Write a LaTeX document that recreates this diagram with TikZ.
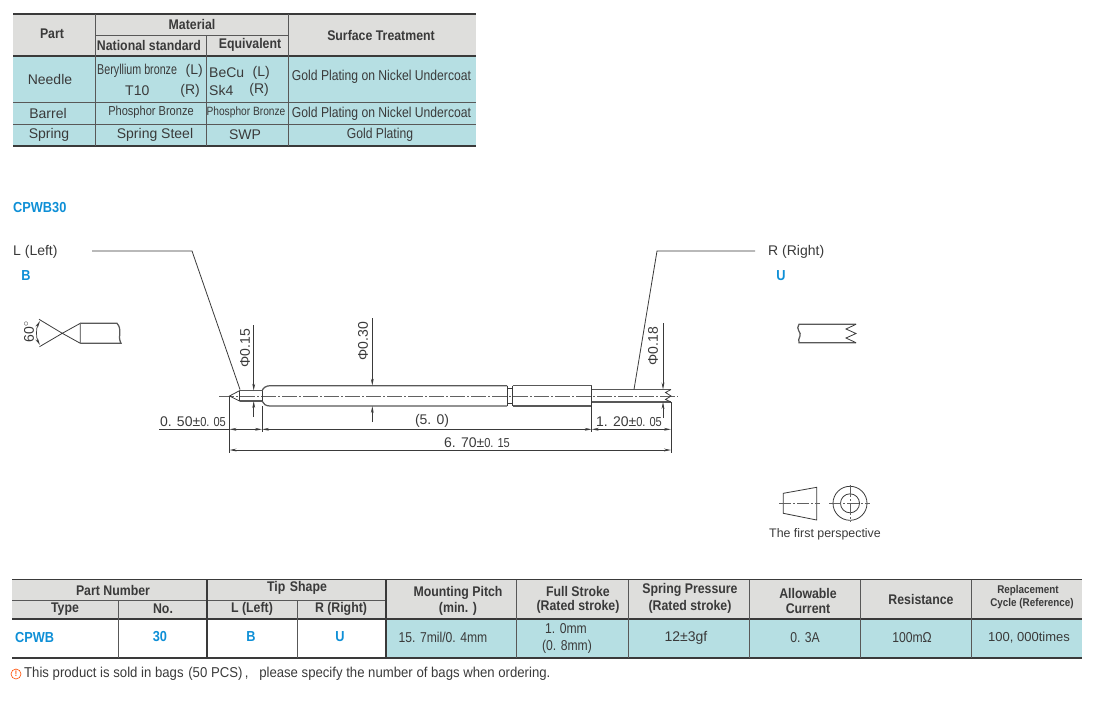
\documentclass[tikz,border=0pt]{standalone}
\usepackage{fontspec}
\usetikzlibrary{arrows.meta}
\setmainfont{Liberation Sans}
\newfontfamily\nf[FakeStretch=0.85]{Liberation Sans}
\newfontfamily\nn[FakeStretch=0.92]{Liberation Sans}
\newfontfamily\nc[FakeStretch=0.75]{Liberation Sans}
\newfontfamily\nx{Liberation Sans}
\newfontfamily\nb[FakeStretch=0.88]{Liberation Sans Bold}
\definecolor{hdr}{HTML}{DEDEDC}
\definecolor{teal}{HTML}{B6DFE3}
\definecolor{blu}{HTML}{0E8FD6}
\definecolor{ink}{HTML}{3A3A3A}
\newcommand{\sz}[1]{\fontsize{#1}{#1}\selectfont}
\tikzset{
  x=1pt,y=-1pt,
  lab/.style={inner sep=0pt,text=ink,font=\nf\sz{14.3}},
  labw/.style={inner sep=0pt,text=ink,font=\nx\sz{14}},
  labn/.style={inner sep=0pt,text=ink,font=\nn\sz{14.3}},
  labs/.style={inner sep=0pt,text=ink,font=\nf\sz{13}},
  labt/.style={inner sep=0pt,text=ink,font=\nf\sz{12}},
  hd/.style={inner sep=0pt,text=ink,font=\nb\sz{14}},
  hds/.style={inner sep=0pt,text=ink,font=\nb\sz{11.2}},
  bluet/.style={inner sep=0pt,text=blu,font=\nb\sz{14.5}},
  heavy/.style={draw=ink,line width=1.6pt},
  thin/.style={draw=ink!85,line width=0.9pt},
  part/.style={draw=ink,line width=0.8pt},
  partb/.style={draw=ink!85,line width=1.25pt},
  dim/.style={draw=ink,line width=0.7pt},
  dimarr/.style={dim,{Stealth[length=7pt,width=2.8pt]}-{Stealth[length=7pt,width=2.8pt]}},
  endarr/.style={dim,-{Stealth[length=7pt,width=2.8pt]}},
  centre/.style={draw=ink!80,line width=0.9pt,dash pattern=on 15pt off 2pt on 2pt off 2pt},
}
\begin{document}
\begin{tikzpicture}
\useasboundingbox (0,0) rectangle (1100,702);
% ---------- material table
\fill[hdr] (13,14) rectangle (476,56);
\fill[teal] (13,56) rectangle (476,146);
\draw[heavy] (13,14) -- (476,14);
\draw[heavy] (13,56) -- (476,56);
\draw[heavy] (13,146) -- (476,146);
\draw[thin] (95,35) -- (288,35);
\draw[thin] (13,102) -- (476,102);
\draw[thin] (13,124) -- (476,124);
\draw[thin] (95,14) -- (95,146);
\draw[thin] (288,14) -- (288,146);
\draw[thin] (206,35) -- (206,146);
\node[hd] (m1) at (52,33.5) {Part};
\node[hd] (m2) at (192,24) {Material};
\node[hd] (m3) at (149,45.5) {National standard};
\node[hd] (m4) at (250,45) {Equivalent};
\node[hd] (m5) at (381,35) {Surface Treatment};
\node[labw] (m6) at (50,79.5) {Needle};
\node[labw] (m7) at (48,113) {Barrel};
\node[labw] (m8) at (49,135) {Spring};
\node[inner sep=0pt,text=ink,font=\nc\sz{14.3},anchor=west] (m9) at (97,71) {Beryllium bronze};
\node[labw,anchor=east] (m9b) at (203,71) {(L)};
\node[labw,anchor=west] (m10) at (125,91) {T10};
\node[labw,anchor=east] (m11) at (200,91) {(R)};
\node[labw,anchor=west] (m12) at (209,73) {BeCu};
\node[labw,anchor=east] (m12b) at (270,73) {(L)};
\node[labw,anchor=west] (m13) at (209,90) {Sk4};
\node[labw,anchor=east] (m13b) at (269,90) {(R)};
\node[labs] (m14) at (151,112.5) {Phosphor Bronze};
\node[labt] (m15) at (246,112.5) {Phosphor Bronze};
\node[labw] (m16) at (155,134.5) {Spring Steel};
\node[labw] (m17) at (245,134.5) {SWP};
\node[lab] (m18) at (381.5,77) {Gold Plating on Nickel Undercoat};
\node[lab] (m19) at (381.5,113.5) {Gold Plating on Nickel Undercoat};
\node[lab] (m20) at (380,134.5) {Gold Plating};
% ---------- title and tip labels
\node[bluet,anchor=west] (title) at (13,208) {CPWB30};
\node[labw,anchor=west] (lname) at (13,251.5) {L (Left)};
\node[bluet] (lcode) at (26,276) {B};
\node[labw,anchor=west] (rname) at (768,251.5) {R (Right)};
\node[bluet] (rcode) at (781,276) {U};
% ---------- needle drawing
\coordinate (tip) at (229.5,396);
\coordinate (conetop) at (239.5,390.7);
\coordinate (conebot) at (239.5,401);
\draw[centre] (219,396) -- (678,396);
\draw[part] (tip) -- (conetop) -- (conebot) -- cycle;
\draw[partb] (conetop) -- (262,390.7);
\draw[partb] (conebot) -- (262,401);
\draw[partb] (262,391) .. controls (263,388) and (266,385.7) .. (270,385.7) -- (507,385.7);
\draw[partb] (262,401) .. controls (263,404) and (266,406) .. (270,406) -- (507,406);
\draw[part] (262,391) -- (262,401);
\draw[part] (507,385.7) -- (507,406);
\draw[part] (512.7,385.7) -- (512.7,406);
\draw[part] (507,388) -- (512.7,388);
\draw[part] (507,403.7) -- (512.7,403.7);
\draw[partb] (512.7,385.7) -- (591.7,385.7);
\draw[partb] (512.7,406) -- (591.7,406);
\draw[part] (591.7,385.7) -- (591.7,406);
\draw[partb] (591.7,389.5) -- (671,389.5);
\draw[partb] (591.7,402) -- (671,402);
\draw[part] (671,389.5) -- (665.5,392.5) -- (671,396) -- (665.5,399.5) -- (671,402);
% leaders
\coordinate (ll1) at (92,251);
\coordinate (ll2) at (192,251);
\coordinate (ll3) at (240,389.5);
\coordinate (rl1) at (755,251);
\coordinate (rl2) at (657,251);
\coordinate (rl3) at (634,389.5);
\draw[part] (ll1) -- (ll2) -- (ll3);
\draw[part] (rl1) -- (rl2) -- (rl3);
% extension lines
\draw[dim] (tip) -- (229.5,452.5);
\draw[dim] (262,406) -- (262,431.5);
\draw[dim] (591.7,406) -- (591.7,431.5);
\draw[dim] (671,402) -- (671,452.5);
% horizontal dimensions
\coordinate (d0) at (159,429.3);
\coordinate (d1) at (229.5,429.3);
\coordinate (d2) at (262,429.3);
\coordinate (d3) at (591.7,429.3);
\coordinate (d4) at (671,429.3);
\coordinate (e1) at (229.5,450);
\coordinate (e2) at (671,450);
\draw[dim] (d0) -- (d1);
\draw[dimarr] (d1) -- (d2);
\draw[dimarr] (d2) -- (d3);
\draw[dimarr] (d3) -- (d4);
\draw[dimarr] (e1) -- (e2);
% diameter dimensions
\coordinate (a1) at (253.7,325);
\coordinate (a2) at (253.7,390.7);
\coordinate (a3) at (253.7,417);
\coordinate (a4) at (253.7,401);
\draw[endarr] (a1) -- (a2);
\draw[endarr] (a3) -- (a4);
\coordinate (b1) at (372.3,318);
\coordinate (b2) at (372.3,385.7);
\coordinate (b3) at (372.3,422);
\coordinate (b4) at (372.3,406);
\draw[endarr] (b1) -- (b2);
\draw[endarr] (b3) -- (b4);
\coordinate (c1) at (663,323);
\coordinate (c2) at (663,389.5);
\coordinate (c3) at (663,418);
\coordinate (c4) at (663,402);
\draw[endarr] (c1) -- (c2);
\draw[endarr] (c3) -- (c4);
\node[labw,rotate=90] (p1) at (245,348) {Φ0.15};
\node[labw,rotate=90] (p2) at (363,341) {Φ0.30};
\node[labw,rotate=90] (p3) at (653,346) {Φ0.18};
\node[labw] (t1) at (193,421.5) {0. 50±{\nf\sz{13}0. 05}};
\node[labw] (t2) at (432,420.5) {(5. 0)};
\node[labw] (t3) at (629,421.5) {1. 20±{\nf\sz{13}0. 05}};
\node[labw] (t4) at (477,442.5) {6. 70±{\nf\sz{13}0. 15}};
% ---------- tip B detail
\draw[part] (39,319.3) -- (62.3,333.3) -- (39.5,346.7);
\draw[part] (62.3,333.3) -- (80.3,323.3) -- (80.3,343.3) -- cycle;
\draw[partb] (80.3,323.3) -- (117,323.3) .. controls (123,330) and (117,336) .. (121,343.3) -- (80.3,343.3);
\coordinate (ang1) at (40,321);
\coordinate (ang2) at (40,345);
\draw[dimarr] (ang1) .. controls (36,328) and (36,338) .. (ang2);
\node[labw,rotate=90] (ang) at (29,332) {60$^{\circ}$};
% ---------- tip U detail
\draw[partb] (856,324.3) -- (799,324.3) .. controls (795,329) and (802,333) .. (800,336) .. controls (799,339) and (798,340) .. (799,342.7) -- (856,342.7);
\draw[part] (856,324.3) -- (846,329) -- (856,333.5) -- (846,338) -- (856,342.7);
% ---------- first-angle symbol
\draw[part] (783.3,493.3) -- (816.7,487.3) -- (816.7,520) -- (783.3,513.3) -- cycle;
\draw[centre,dash pattern=on 12pt off 2pt on 2pt off 2pt] (779,503.3) -- (820,503.3);
\draw[part] (850,503.3) circle[radius=17];
\draw[part] (850,503.3) circle[radius=9.5];
\draw[centre,dash pattern=on 12pt off 2pt on 2pt off 2pt] (829,503.3) -- (870,503.3);
\draw[centre,dash pattern=on 12pt off 2pt on 2pt off 2pt] (850,485) -- (850,522);
\node[inner sep=0pt,text=ink,font=\nx\sz{12.4}] (fa) at (825,534.5) {The first perspective};
% ---------- order table
\fill[hdr] (12,579) rectangle (1082,619);
\fill[teal] (386,619) rectangle (1082,658);
\draw[heavy] (12,579.5) -- (1082,579.5);
\draw[heavy] (12,619) -- (1082,619);
\draw[heavy] (12,658) -- (1082,658);
\draw[thin] (12,600) -- (386,600);
\draw[heavy] (207,579.5) -- (207,658);
\draw[heavy] (386,579.5) -- (386,658);
\draw[thin] (118,600) -- (118,658);
\draw[thin] (297,600) -- (297,658);
\foreach \cx in {516,628,749,860,971} \draw[thin] (\cx,579.5) -- (\cx,658);
\node[hd] (o1) at (113,590) {Part Number};
\node[hd] (o2) at (65,609) {Type};
\node[hd] (o3) at (163,609) {No.};
\node[hd] (o4) at (297,588) {Tip\,\,Shape};
\node[hd] (o5) at (252,609) {L (Left)};
\node[hd] (o6) at (341,609) {R (Right)};
\node[hd] (o7) at (458,593) {Mounting Pitch};
\node[hd] (o8) at (458,609) {(min. )};
\node[hd] (o9) at (578,591) {Full Stroke};
\node[hd] (o10) at (578,607) {(Rated stroke)};
\node[hd] (o11) at (690,590) {Spring Pressure};
\node[hd] (o12) at (690,607) {(Rated stroke)};
\node[hd] (o13) at (808,593) {Allowable};
\node[hd] (o14) at (808,609) {Current};
\node[hd] (o15) at (921,599) {Resistance};
\node[hds] (o16) at (1028,591) {Replacement};
\node[hds] (o17) at (1032,604) {Cycle (Reference)};
\node[bluet,anchor=west] (o18) at (15,637) {CPWB};
\node[bluet] (o19) at (160,637) {30};
\node[bluet] (o20) at (251,637) {B};
\node[bluet] (o21) at (340,637) {U};
\node[lab] (o22) at (443,637.5) {15. 7mil/0. 4mm};
\node[lab] (o23) at (566,629) {1. 0mm};
\node[lab] (o24) at (567,647) {(0. 8mm)};
\node[labw] (o25) at (686,637.5) {12±3gf};
\node[lab] (o26) at (805,637.5) {0. 3A};
\node[lab] (o27) at (912,637.5) {100mΩ};
\node[inner sep=0pt,text=ink,font=\nx\sz{13}] (o28) at (1029,637.5) {100, 000times};
% ---------- note
\node[circle,draw=orange!60!red,line width=0.6pt,inner sep=0pt,minimum size=10pt,text=orange!60!red,font=\nb\sz{8}] (warn) at (16,674) {!};
\node[labn,anchor=west] (note) at (24,673.5) {This product is sold in bags\,\,(50 PCS)\,,\,\,\, please specify the number of bags when ordering.};
\end{tikzpicture}
\end{document}
